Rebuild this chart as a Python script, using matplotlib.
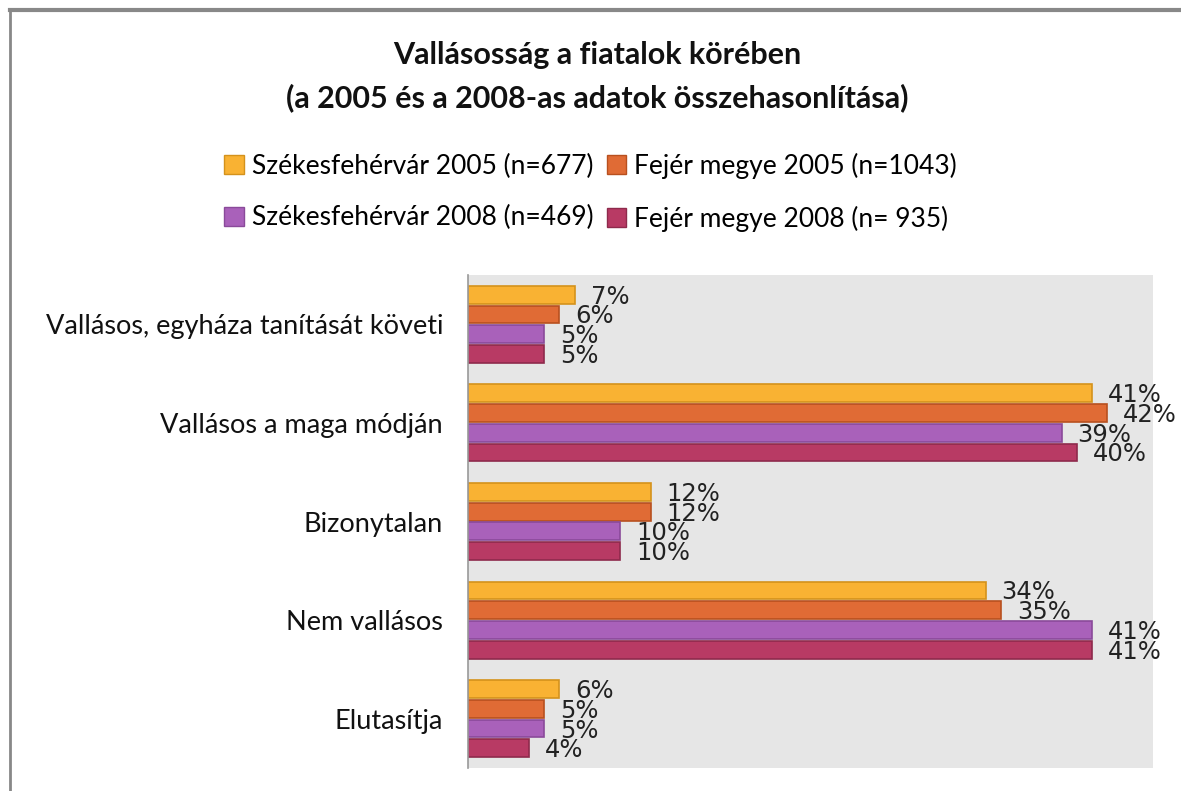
import matplotlib.pyplot as plt
from matplotlib.patches import Patch
from matplotlib.lines import Line2D

categories = [
    "Vallásos, egyháza tanítását követi",
    "Vallásos a maga módján",
    "Bizonytalan",
    "Nem vallásos",
    "Elutasítja",
]
series_names = [
    "Székesfehérvár 2005 (n=677)",
    "Fejér megye 2005 (n=1043)",
    "Székesfehérvár 2008 (n=469)",
    "Fejér megye 2008 (n= 935)",
]
szfv_2005 = [7, 41, 12, 34, 6]
fejer_2005 = [6, 42, 12, 35, 5]
szfv_2008 = [5, 39, 10, 41, 5]
fejer_2008 = [5, 40, 10, 41, 4]

series = [szfv_2005, fejer_2005, szfv_2008, fejer_2008]
colors = ["#F9B233", "#E06B35", "#A961BA", "#B83A64"]
edges = ["#D4921C", "#B8501F", "#8A4A9A", "#8E2A4C"]
offsets = [-0.3, -0.1, 0.1, 0.3]

font = "Lato"

fig = plt.figure(figsize=(11.81, 7.91), dpi=100)
ax = fig.add_axes([0.3963, 0.0291, 0.5800, 0.6232])
ax.set_facecolor("#E6E6E6")

for vals, c, e, off in zip(series, colors, edges, offsets):
    ys = [i + off for i in range(len(categories))]
    ax.barh(ys, vals, height=0.18, color=c, edgecolor=e, linewidth=1.2)
    for y, v in zip(ys, vals):
        ax.text(v + 1.05, y + 0.02, f"{v}%", va="center", ha="left",
                fontsize=17.5, color="#222222", family="DejaVu Sans")

ax.set_xlim(0, 45)
ax.set_ylim(len(categories) - 0.5, -0.5)
ax.set_yticks(range(len(categories)))
ax.set_yticklabels(categories, fontsize=19.5, family=font, color="#111111")
ax.tick_params(axis="y", length=0, pad=18)
ax.set_xticks([])
for s in ["top", "right", "bottom"]:
    ax.spines[s].set_visible(False)
ax.spines["left"].set_color("#999999")
ax.spines["left"].set_linewidth(1.2)

fig.text(0.506, 0.93, "Vallásosság a fiatalok körében", ha="center", va="center",
         fontsize=22, fontweight="bold", family=font, color="#111111")
fig.text(0.506, 0.877, "(a 2005 és a 2008-as adatok összehasonlítása)", ha="center",
         va="center", fontsize=22, fontweight="bold", family=font, color="#111111")

handles = [Patch(facecolor=c, edgecolor=e, label=n) for c, e, n in zip(colors, edges, series_names)]
# legend order: row-wise
order = [0, 2, 1, 3]
fig.legend([handles[i] for i in order], [series_names[i] for i in order],
           ncol=2, loc="center", bbox_to_anchor=(0.5, 0.757), frameon=False,
           prop={"family": font, "size": 19}, handlelength=0.75, handleheight=0.75,
           handletextpad=0.3, columnspacing=0.5, labelspacing=1.0)

# figure border (top and left)
fig.add_artist(Line2D([0.0085, 1.0], [0.987, 0.987], color="#888888", linewidth=3, transform=fig.transFigure))
fig.add_artist(Line2D([0.0085, 0.0085], [0.0, 0.987], color="#888888", linewidth=2, transform=fig.transFigure))

fig.savefig("out.png", dpi=100)
